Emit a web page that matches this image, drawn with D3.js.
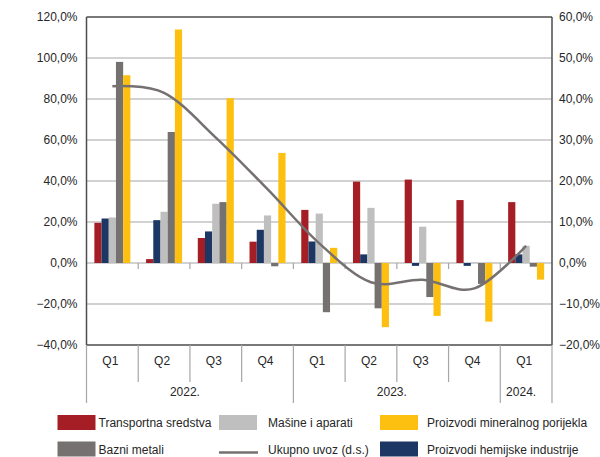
<!DOCTYPE html>
<html>
<head>
<meta charset="utf-8">
<script src="https://cdn.jsdelivr.net/npm/d3@7"></script>
<style>
  html, body { margin: 0; padding: 0; background: #fff; }
  svg { display: block; font-family: "Liberation Sans", Arial, sans-serif; }
</style>
</head>
<body>
<svg id="chart" width="600" height="457"></svg>
<script>
// ---- data ----
const quarters = ["Q1", "Q2", "Q3", "Q4", "Q1", "Q2", "Q3", "Q4", "Q1"];
const years = ["2022.", "2023.", "2024."];
const yearSpans = [4, 4, 1];
const seriesNames = ["Transportna sredstva", "Proizvodi hemijske industrije", "Mašine i aparati", "Bazni metali", "Proizvodi mineralnog porijekla"];
const transportna = [19.6, 1.9, 12.2, 10.4, 25.9, 39.7, 40.7, 30.7, 29.7];
const hemijske   = [21.7, 20.9, 15.4, 16.2, 10.5, 4.2, -1.4, -1.4, 4.2];
const masine     = [22.2, 25.0, 28.9, 23.2, 24.1, 26.9, 17.7, 0.3, 8.4];
const bazni      = [98.1, 63.9, 29.7, -1.6, -24.0, -22.1, -16.6, -10.2, -1.8];
const mineralni  = [91.6, 113.9, 80.4, 53.7, 7.4, -31.3, -25.8, -28.6, -8.1];
const ukupnoUvoz = [43.1, 41.5, 30.6, 18.0, 4.8, -4.7, -4.1, -6.2, 4.2];
const leftTicks = [-40, -20, 0, 20, 40, 60, 80, 100, 120];
const rightTicks = [-20, -10, 0, 10, 20, 30, 40, 50, 60];

const seriesValues = [transportna, hemijske, masine, bazni, mineralni];
const seriesColors = ["#A51E25", "#1D3764", "#BFBFBF", "#767171", "#FDC010"];
const lineColor = "#767171";

// ---- layout ----
const svg = d3.select("#chart");
const L = 86.5, R = 552, T = 17, B = 345;
const idx = d3.range(quarters.length);

const x = d3.scaleBand().domain(idx).range([L, R]).padding(0);
const bw = x.bandwidth();
const groupW = 36;
const xs = d3.scaleBand().domain(d3.range(seriesValues.length))
  .range([(bw - groupW) / 2, (bw + groupW) / 2]).padding(0);
const yL = d3.scaleLinear().domain([-40, 120]).range([B, T]);
const yR = d3.scaleLinear().domain([-20, 60]).range([B, T]);

const fmt = v => d3.format(".1f")(v).replace(".", ",") + "%";

// gridlines
svg.append("g").selectAll("line").data(leftTicks.filter(t => t > -40 && t < 120)).join("line")
  .attr("x1", L).attr("x2", R)
  .attr("y1", d => yL(d)).attr("y2", d => yL(d))
  .attr("stroke", "#A6A6A6").attr("stroke-width", 1.2);

// ticks under zero line
svg.append("g").selectAll("line").data(d3.range(1, quarters.length)).join("line")
  .attr("x1", d => x(d)).attr("x2", d => x(d))
  .attr("y1", yL(0)).attr("y2", yL(0) + 6)
  .attr("stroke", "#A6A6A6").attr("stroke-width", 1.2);

// bars
const gBars = svg.append("g");
seriesValues.forEach((vals, s) => {
  gBars.append("g").selectAll("rect").data(vals).join("rect")
    .attr("x", (d, i) => x(i) + xs(s))
    .attr("width", xs.bandwidth())
    .attr("y", d => yL(Math.max(0, d)))
    .attr("height", d => Math.abs(yL(d) - yL(0)))
    .attr("fill", seriesColors[s]);
});

// line (right axis)
const line = d3.line()
  .x((d, i) => x(i) + bw / 2)
  .y(d => yR(d))
  .curve(d3.curveCardinal.tension(0));
svg.append("path").datum(ukupnoUvoz)
  .attr("d", line).attr("fill", "none")
  .attr("stroke", lineColor).attr("stroke-width", 2.5);

// frame
const frameColor = "#4D4D4D";
svg.append("line").attr("x1", L).attr("x2", R).attr("y1", T).attr("y2", T)
  .attr("stroke", frameColor).attr("stroke-width", 1.5);
svg.append("line").attr("x1", L).attr("x2", R).attr("y1", B).attr("y2", B)
  .attr("stroke", frameColor).attr("stroke-width", 1.5);
svg.append("line").attr("x1", L).attr("x2", L).attr("y1", T).attr("y2", B)
  .attr("stroke", frameColor).attr("stroke-width", 1.5);
svg.append("line").attr("x1", R).attr("x2", R).attr("y1", T).attr("y2", B)
  .attr("stroke", frameColor).attr("stroke-width", 1.5);

// left axis labels
const axL = d3.axisLeft(yL).tickValues(leftTicks).tickFormat(fmt).tickSize(0).tickPadding(9);
const gL = svg.append("g").attr("transform", `translate(${L},0)`).call(axL);
gL.select(".domain").remove();
gL.selectAll("text").attr("font-size", 12).attr("fill", "#262626")
  .attr("font-family", "Liberation Sans, Arial, sans-serif");

// right axis labels
const axR = d3.axisRight(yR).tickValues(rightTicks).tickFormat(fmt).tickSize(0).tickPadding(7);
const gR = svg.append("g").attr("transform", `translate(${R},0)`).call(axR);
gR.select(".domain").remove();
gR.selectAll("text").attr("font-size", 12).attr("fill", "#262626")
  .attr("font-family", "Liberation Sans, Arial, sans-serif");

// category axis below
const sepColor = "#A6A6A6";
let yearStarts = [0];
yearSpans.forEach((s, i) => yearStarts.push(yearStarts[i] + s));
const yearBoundaries = new Set(yearStarts);
const gCat = svg.append("g");
d3.range(quarters.length + 1).forEach(i => {
  const xx = i < quarters.length ? x(i) : R;
  const isYear = yearBoundaries.has(i);
  gCat.append("line")
    .attr("x1", xx).attr("x2", xx)
    .attr("y1", B).attr("y2", isYear ? 403 : 382)
    .attr("stroke", sepColor).attr("stroke-width", 1.2);
});
gCat.selectAll("text.q").data(quarters).join("text")
  .attr("class", "q")
  .attr("x", (d, i) => x(i) + bw / 2 - 2)
  .attr("y", 364.5)
  .attr("text-anchor", "middle")
  .attr("font-size", 12).attr("fill", "#262626")
  .text(d => d);
gCat.selectAll("text.yr").data(years).join("text")
  .attr("class", "yr")
  .attr("x", (d, i) => {
    const a = x(yearStarts[i]);
    const bIdx = yearStarts[i + 1];
    const b = bIdx < quarters.length ? x(bIdx) : R;
    return (a + b) / 2 - 5;
  })
  .attr("y", 395.5)
  .attr("text-anchor", "middle")
  .attr("font-size", 12).attr("fill", "#262626")
  .text(d => d);

// legend
const legendItems = [
  { name: "Transportna sredstva", type: "rect", color: seriesColors[0], x: 57.5, row: 0 },
  { name: "Mašine i aparati", type: "rect", color: seriesColors[2], x: 219, row: 0 },
  { name: "Proizvodi mineralnog porijekla", type: "rect", color: seriesColors[4], x: 380, row: 0 },
  { name: "Bazni metali", type: "rect", color: seriesColors[3], x: 57.5, row: 1 },
  { name: "Ukupno uvoz (d.s.)", type: "line", color: lineColor, x: 219, row: 1 },
  { name: "Proizvodi hemijske industrije", type: "rect", color: seriesColors[1], x: 380, row: 1 }
];
const textOffsets = [41, 49, 47];
const gLeg = svg.append("g");
legendItems.forEach((it, k) => {
  const top = it.row === 0 ? 415 : 441.5;
  if (it.type === "rect") {
    gLeg.append("rect").attr("x", it.x).attr("y", top).attr("width", 38).attr("height", 15)
      .attr("fill", it.color);
  } else {
    gLeg.append("line").attr("x1", it.x).attr("x2", it.x + 39)
      .attr("y1", top + 11).attr("y2", top + 11)
      .attr("stroke", it.color).attr("stroke-width", 2.5);
  }
  gLeg.append("text")
    .attr("x", it.x + textOffsets[k % 3])
    .attr("y", top + 12)
    .attr("font-size", 12).attr("fill", "#262626")
    .text(it.name);
});
</script>
</body>
</html>
